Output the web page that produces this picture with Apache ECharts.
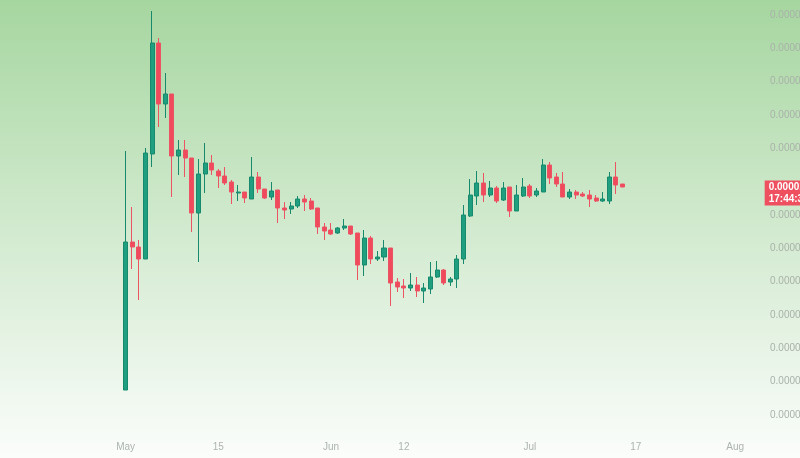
<!DOCTYPE html>
<html>
<head>
<meta charset="utf-8">
<script src="https://cdn.jsdelivr.net/npm/echarts@6/dist/echarts.min.js"></script>
<style>
  html, body { margin: 0; padding: 0; }
  #main { width: 800px; height: 458px; }
</style>
</head>
<body>
<div id="main"></div>
<script>
// prices in millionths (x 1e-6), one candle per day from May 1 to Jul 15
var UNIT = 1e-6;
var firstCandle = '2023-05-01';
var open = [1.50,10.38,10.08,9.36,15.66,22.32,18.66,19.26,15.54,15.90,
    15.42,12.12,14.46,15.12,14.64,14.34,13.98,13.32,13.38,12.96,
    14.28,13.56,13.08,13.50,12.42,12.36,12.54,12.96,12.84,12.42,
    11.28,11.10,10.92,11.22,11.34,10.92,9.00,10.62,9.36,9.48,
    10.02,7.98,7.74,7.62,7.80,7.44,7.56,8.28,8.70,7.98,
    8.16,9.36,11.94,13.14,13.92,13.20,13.62,12.90,13.68,12.24,
    13.14,13.74,13.20,13.38,15.00,14.28,13.86,13.08,13.38,13.26,
    13.20,13.02,12.84,12.84,14.28,13.86];
var close = [10.38,10.08,9.36,15.72,22.32,18.66,19.26,15.54,15.90,15.42,
    12.12,14.46,15.12,14.70,14.34,13.92,13.38,13.38,13.02,14.28,
    13.56,13.02,13.44,12.42,12.30,12.54,12.96,12.78,12.36,11.28,
    11.04,10.86,11.22,11.34,10.86,9.00,10.62,9.36,9.48,10.02,
    7.92,7.68,7.62,7.80,7.44,7.62,8.28,8.70,7.92,8.16,
    9.36,12.00,13.20,13.92,13.20,13.62,12.84,13.62,12.24,13.20,
    13.68,13.14,13.44,15.00,14.22,13.86,13.08,13.38,13.20,13.14,
    12.96,12.84,12.96,14.28,13.80,13.68];
var low = [1.50,8.76,6.90,9.36,14.88,17.28,17.82,13.08,14.40,14.28,
    10.98,9.18,13.32,14.40,13.62,13.80,12.66,12.84,12.72,12.96,
    13.32,12.96,12.90,11.52,11.76,12.06,12.42,12.24,12.30,10.86,
    10.50,10.80,10.86,11.10,10.80,8.10,8.34,9.06,9.24,9.24,
    6.54,7.38,7.02,7.44,7.08,6.72,7.26,8.22,7.80,7.74,
    7.62,9.06,11.88,12.60,12.78,13.08,12.72,12.84,11.88,12.24,
    13.08,13.02,13.08,13.38,13.86,13.68,13.08,12.96,12.96,13.08,
    12.48,12.78,12.78,12.66,13.26,13.68];
var high = [15.84,12.48,10.50,16.02,24.24,22.62,20.52,19.26,16.50,16.50,
    15.42,15.36,16.32,15.60,14.76,14.88,14.10,13.80,13.38,15.48,
    14.58,13.56,13.98,13.50,12.78,12.78,13.14,13.20,13.02,12.42,
    11.52,11.52,11.28,11.76,11.34,10.92,11.10,10.74,9.84,10.50,
    10.02,8.22,8.16,8.52,8.28,7.92,9.18,9.24,8.76,8.28,
    9.60,12.60,14.16,14.64,14.52,14.04,13.74,13.98,13.68,13.80,
    14.22,13.86,13.62,15.36,15.18,14.52,14.58,13.56,13.50,13.38,
    13.50,13.20,13.38,14.58,15.18,13.86];

// axis: Apr 13 .. Aug 5, labelled days
var axisStart = '2023-04-13';
var axisDays = 115;
var tickDates = ['2023-05-01', '2023-05-15', '2023-06-01', '2023-06-12', '2023-07-01', '2023-07-17', '2023-08-01'];
var tickLabels = ['May', '15', 'Jun', '12', 'Jul', '17', 'Aug'];
var countdown = '17:44:38';

function iso(d) { return d.toISOString().slice(0, 10); }

var dates = [];
var t0 = new Date(axisStart + 'T00:00:00Z');
for (var i = 0; i < axisDays; i++) {
    dates.push(iso(new Date(t0.getTime() + i * 86400000)));
}
var firstIdx = dates.indexOf(firstCandle);
var candles = dates.map(function (d, i) {
    var k = i - firstIdx;
    if (k < 0 || k >= open.length) return '-';
    return [open[k] * UNIT, close[k] * UNIT, low[k] * UNIT, high[k] * UNIT];
});
var lastClose = close[close.length - 1] * UNIT;

var chart = echarts.init(document.getElementById('main'));

var option = {
    animation: false,
    backgroundColor: new echarts.graphic.LinearGradient(0, 0, 0, 1, [
        { offset: 0, color: '#a6d6a0' },
        { offset: 0.5, color: '#d2eacf' },
        { offset: 1, color: '#fbfdfb' }
    ]),
    grid: { left: 3, right: 35, top: 15, bottom: 43, containLabel: false, outerBoundsMode: 'none' },
    xAxis: {
        type: 'category',
        data: dates,
        boundaryGap: true,
        axisLine: { show: false },
        axisTick: { show: false },
        splitLine: { show: false },
        axisLabel: {
            margin: 27,
            color: '#adb3ad',
            fontSize: 10,
            fontFamily: 'Liberation Sans Narrow, Liberation Sans, sans-serif',
            interval: function (idx, val) { return tickDates.indexOf(val) >= 0; },
            formatter: function (val) { return tickLabels[tickDates.indexOf(val)]; }
        }
    },
    yAxis: {
        type: 'value',
        position: 'right',
        min: 0,
        max: 24 * UNIT,
        interval: 2 * UNIT,
        axisLine: { show: false },
        axisTick: { show: false },
        splitLine: { show: false },
        axisLabel: {
            margin: 5,
            color: '#a9b1a9',
            fontSize: 10,
            fontFamily: 'Liberation Sans, sans-serif',
            // the price tag hides the scale label under it
            formatter: function (v) {
                return Math.abs(v - lastClose) < UNIT ? '' : v.toFixed(8);
            }
        }
    },
    series: [{
        type: 'candlestick',
        data: candles,
        barWidth: '68%',
        clip: false,
        itemStyle: {
            color: '#1f9e80',
            color0: '#ef4b5d',
            borderColor: '#178a6d',
            borderColor0: '#ec5363',
            borderWidth: 1
        },
        markLine: {
            symbol: 'none',
            silent: true,
            lineStyle: { color: 'rgba(0,0,0,0)', width: 0 },
            label: {
                show: true,
                position: 'end',
                distance: 3,
                offset: [0, 6],
                formatter: function () { return lastClose.toFixed(8) + '\n' + countdown; },
                color: '#ffffff',
                fontSize: 10,
                fontWeight: 'bold',
                fontFamily: 'Liberation Sans, sans-serif',
                lineHeight: 12,
                backgroundColor: '#ef5060',
                padding: [1, 3, 0, 4]
            },
            data: [[
                { coord: [dates[0], lastClose] },
                { coord: [dates[dates.length - 1], lastClose] }
            ]]
        }
    }]
};

chart.setOption(option);
</script>
</body>
</html>
